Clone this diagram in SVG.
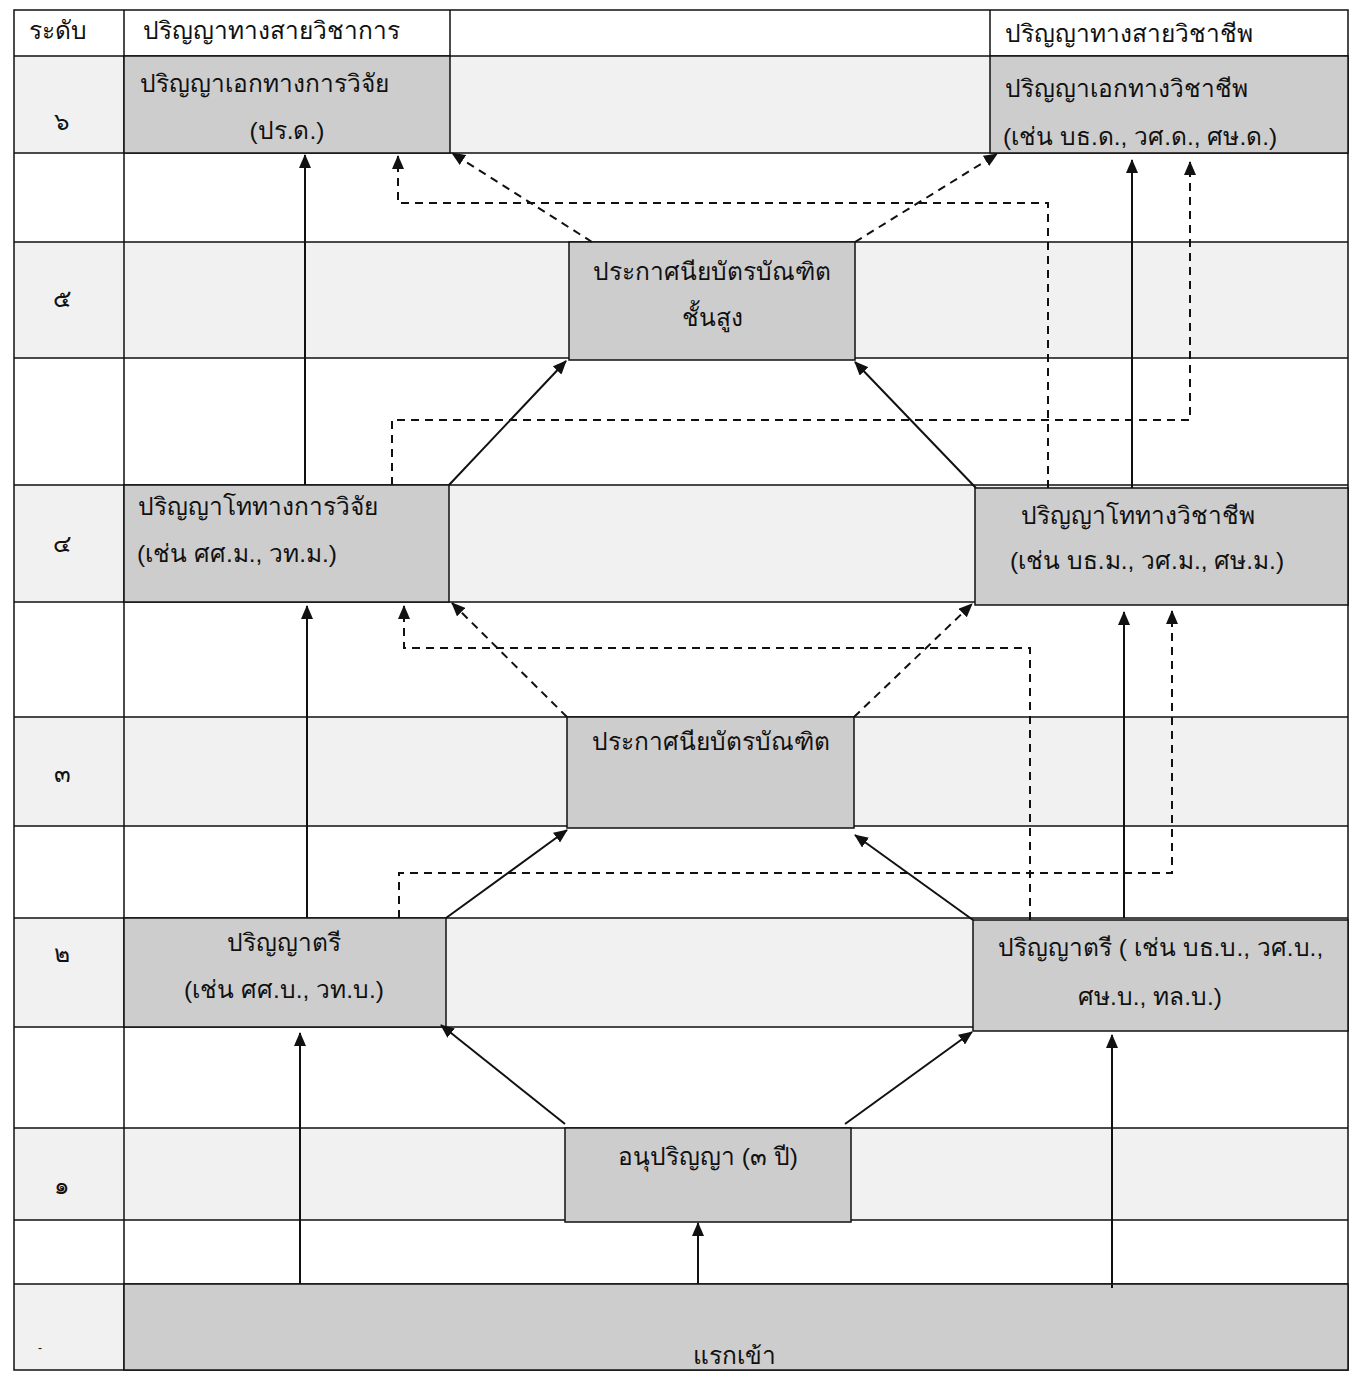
<svg xmlns="http://www.w3.org/2000/svg" width="1359" height="1381" viewBox="0 0 1359 1381">
<style>
text{font-family:"Liberation Sans","Noto Sans","DejaVu Sans",sans-serif;font-size:24.5px;fill:#111}
.mid{text-anchor:middle}
.grid{stroke:#111;stroke-width:1.5;fill:none}
.lvl{fill:#f1f1f1}
.box{fill:#cdcdcd;stroke:#111;stroke-width:1.5}
.c{stroke:#111;stroke-width:2;fill:none;marker-end:url(#ah)}
.d{stroke:#111;stroke-width:2;fill:none;stroke-dasharray:8 6;marker-end:url(#ah)}
</style>
<defs>
<marker id="ah" markerUnits="userSpaceOnUse" markerWidth="14" markerHeight="12" refX="13" refY="6" orient="auto" viewBox="0 0 14 12">
<path d="M0,0 L14,6 L0,12 z" fill="#111"/>
</marker>
</defs>
<rect width="1359" height="1381" fill="#fff"/>
<g id="table">
<rect class="lvl" x="14" y="56" width="1334" height="97"/>
<rect class="lvl" x="14" y="242" width="1334" height="116"/>
<rect class="lvl" x="14" y="485" width="1334" height="117"/>
<rect class="lvl" x="14" y="717" width="1334" height="109"/>
<rect class="lvl" x="14" y="918" width="1334" height="109"/>
<rect class="lvl" x="14" y="1128" width="1334" height="92"/>
<rect class="lvl" x="14" y="1284" width="1334" height="86"/>
<path class="grid" d="M14,10H1348V1370H14Z M124,10V1370 M450,10V56 M990,10V56 M14,56H1348 M14,153H1348 M14,242H1348 M14,358H1348 M14,485H1348 M14,602H1348 M14,717H1348 M14,826H1348 M14,918H1348 M14,1027H1348 M14,1128H1348 M14,1220H1348 M14,1284H1348"/>
<text class="mid" x="58" y="39">ระดับ</text>
<text x="143" y="39">ปริญญาทางสายวิชาการ</text>
<text x="1005" y="42">ปริญญาทางสายวิชาชีพ</text>
<text class="mid" x="62" y="130">๖</text>
<text class="mid" x="62" y="307">๕</text>
<text class="mid" x="62" y="552">๔</text>
<text class="mid" x="62" y="782">๓</text>
<text class="mid" x="62" y="962">๒</text>
<text class="mid" x="62" y="1194">๑</text>
<text class="mid" x="40" y="1352" style="font-size:12px">-</text>
</g>
<g id="n6a"><rect class="box" x="124" y="56" width="326" height="97"/>
<text x="140" y="92">ปริญญาเอกทางการวิจัย</text><text class="mid" x="287" y="139">(ปร.ด.)</text></g>
<g id="n6b"><rect class="box" x="990" y="56" width="358" height="97"/>
<text x="1005" y="97">ปริญญาเอกทางวิชาชีพ</text><text x="1003" y="145">(เช่น บธ.ด., วศ.ด., ศษ.ด.)</text></g>
<g id="n5"><rect class="box" x="569" y="242" width="286" height="118"/>
<text class="mid" x="712" y="280">ประกาศนียบัตรบัณฑิต</text><text class="mid" x="712" y="326">ชั้นสูง</text></g>
<g id="n4a"><rect class="box" x="124" y="485" width="325" height="117"/>
<text x="138" y="515">ปริญญาโททางการวิจัย</text><text x="137" y="562">(เช่น ศศ.ม., วท.ม.)</text></g>
<g id="n4b"><rect class="box" x="975" y="488" width="373" height="117"/>
<text class="mid" x="1138" y="524">ปริญญาโททางวิชาชีพ</text><text class="mid" x="1147" y="569">(เช่น บธ.ม., วศ.ม., ศษ.ม.)</text></g>
<g id="n3"><rect class="box" x="567" y="717" width="287" height="111"/>
<text class="mid" x="711" y="750">ประกาศนียบัตรบัณฑิต</text></g>
<g id="n2a"><rect class="box" x="124" y="918" width="322" height="109"/>
<text class="mid" x="284" y="951">ปริญญาตรี</text><text class="mid" x="284" y="998">(เช่น ศศ.บ., วท.บ.)</text></g>
<g id="n2b"><rect class="box" x="973" y="920" width="375" height="111"/>
<text x="998" y="956">ปริญญาตรี ( เช่น บธ.บ., วศ.บ.,</text><text class="mid" x="1150" y="1005">ศษ.บ., ทล.บ.)</text></g>
<g id="n1"><rect class="box" x="565" y="1128" width="286" height="94"/>
<text class="mid" x="708" y="1165">อนุปริญญา (๓ ปี)</text></g>
<g id="n0"><rect class="box" x="124" y="1284" width="1224" height="86"/>
<text class="mid" x="734" y="1364">แรกเข้า</text></g>
<g id="connectors">
<path class="c" d="M305,485V155"/>
<path class="c" d="M1132,488V160"/>
<path class="c" d="M449,485L566,361"/>
<path class="c" d="M976,488L855,362"/>
<path class="c" d="M307,918V606"/>
<path class="c" d="M446,918L567,830"/>
<path class="c" d="M973,920L855,835"/>
<path class="c" d="M1124,918V612"/>
<path class="c" d="M300,1284V1033"/>
<path class="c" d="M565,1124L441,1025"/>
<path class="c" d="M845,1124L972,1032"/>
<path class="c" d="M698,1284V1223"/>
<path class="c" d="M1112,1288V1035"/>
<path class="d" d="M592,242L452,153"/>
<path class="d" d="M855,242L997,154"/>
<path class="d" d="M1048,488V203H398V156"/>
<path class="d" d="M392,485V420H1190V162"/>
<path class="d" d="M567,717L452,603"/>
<path class="d" d="M854,717L972,604"/>
<path class="d" d="M1030,920V648H404V606"/>
<path class="d" d="M399,918V873H1172V611"/>
</g>
</svg>
